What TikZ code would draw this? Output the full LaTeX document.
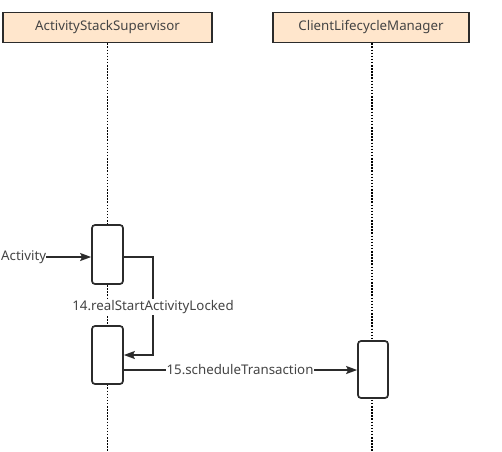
\documentclass[tikz,border=0pt]{standalone}
\usepackage{fontspec}
\setmainfont{Noto Sans}
\usetikzlibrary{arrows.meta}
\definecolor{hdrfill}{HTML}{FFE6CC}
\definecolor{edge}{HTML}{2B2B2B}
\definecolor{txt}{HTML}{444444}
\begin{document}
\begin{tikzpicture}[x=1pt,y=-1pt,
  header/.style={draw=edge,line width=1.7pt,fill=hdrfill,minimum width=209pt,minimum height=30pt,inner sep=0pt,font=\fontsize{13.3}{15}\selectfont,text=txt},
  actbox/.style={draw=edge,line width=1.7pt,fill=white,rounded corners=3pt,inner sep=0pt},
  lifeline/.style={draw=black,line width=1.8pt,dash pattern=on 1.5pt off 1.6pt},
  msg/.style={draw=edge,line width=1.5pt,-{Stealth[length=11pt,width=8pt,inset=2pt]}},
  lbl/.style={font=\fontsize{13.3}{15}\selectfont,text=txt,fill=white,inner sep=1pt}]
\useasboundingbox (0,0) rectangle (502,451);
% headers
\node[header] (ass) at (107.5,27.5) {ActivityStackSupervisor};
\node[header,minimum width=196pt] (clm) at (371,27.5) {ClientLifecycleManager};
% lifeline ends
\coordinate (assEnd) at (107.5,451);
\coordinate (clmEnd) at (372,451);
\draw[lifeline] (ass.south) -- (assEnd);
\draw[lifeline] (clm.south -| clmEnd) -- (clmEnd);
% activation boxes
\node[actbox,minimum width=31pt,minimum height=59pt] (a1) at (107.5,254.5) {};
\node[actbox,minimum width=31pt,minimum height=58pt] (a2) at (107.5,355) {};
\node[actbox,minimum width=30pt,minimum height=57pt] (a3) at (373,369.5) {};
% incoming message
\node[font=\fontsize{13.3}{15}\selectfont,text=txt,anchor=west,inner sep=0pt] (in) at (1,257) {Activity};
\draw[msg] (in.east) -- (a1.west |- in.east);
% self call
\coordinate (c1) at (153,257);
\coordinate (c2) at (153,355);
\draw[msg] (a1.east |- c1) -- (c1) -- (c2) -- (a2.east |- c2);
\node[lbl] (l14) at (153,307) {14.realStartActivityLocked};
% message 15
\coordinate (m15) at (123,370);
\draw[msg] (m15) -- (a3.west |- m15);
\node[lbl] (l15) at (240,370) {15.scheduleTransaction};
\end{tikzpicture}
\end{document}
